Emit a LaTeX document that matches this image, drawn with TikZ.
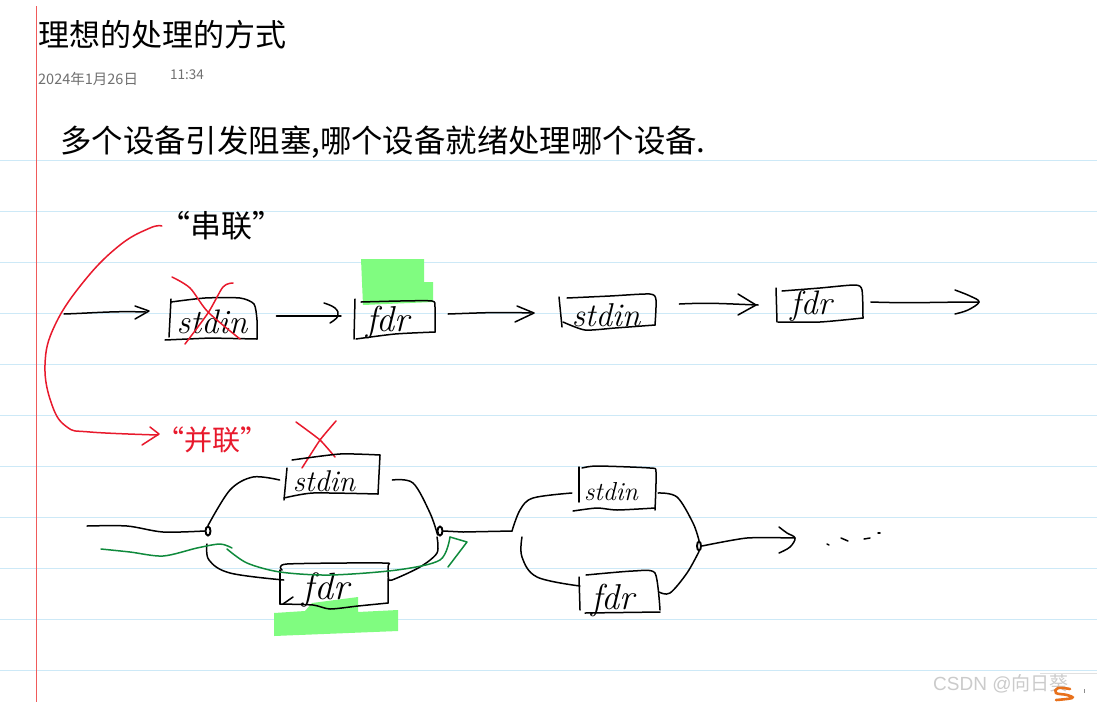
\documentclass[tikz,border=0pt]{standalone}
\usepackage{fontspec}
\usetikzlibrary{positioning,shapes.geometric}
\newfontfamily\cjk{Noto Sans CJK SC}
\newfontfamily\wmfont{Liberation Sans}
\definecolor{ruleblue}{HTML}{CDE9F7}
\definecolor{marginred}{HTML}{F05A5A}
\definecolor{inkred}{HTML}{E8192C}
\definecolor{inkgreen}{HTML}{0F8A3C}
\definecolor{marker}{HTML}{80FC80}
\definecolor{datagrey}{HTML}{707070}
\definecolor{wmgrey}{HTML}{CBCBCB}
\definecolor{sogou}{HTML}{E8711C}
\tikzset{
  pen/.style={draw=black,line width=1.5pt,line cap=round,line join=round},
  redpen/.style={draw=inkred,line width=1.5pt,line cap=round,line join=round},
  greenpen/.style={draw=inkgreen,line width=1.5pt,line cap=round,line join=round},
  word/.style={font=\itshape\fontsize{#1}{#1}\selectfont,inner sep=0pt},
  joint/.style={draw=black,line width=1.9pt,ellipse,inner sep=0pt,minimum width=5pt,minimum height=9pt},
  note/.style={font=\cjk\fontsize{#1}{#1}\selectfont,inner sep=0pt},
}
\begin{document}
\begin{tikzpicture}[x=1pt,y=-1pt]
\path[use as bounding box,fill=white] (0,0) rectangle (1097,702);
% page rules
\foreach \ruley in {160,211,262,313,364,415,466,517,568,619,670}
  \draw[ruleblue,line width=.9pt] (0,\ruley)--(1097,\ruley);
\draw[marginred,line width=1pt] (36,6)--(36,702);
% marker
\fill[marker] (361,259)--(424,259)--(424,282)--(433,282)--(433,302)--(363,305)--cycle;
\fill[marker] (274,613)--(305,611)--(312,603)--(358,597)--(358,612)--(398,610)--(398,631)--(274,636)--cycle;
% heading
\node[note=31,anchor=west] (title) at (38,35) {理想的处理的方式};
\node[note=14.5,anchor=west,text=datagrey] (date) at (38,79) {2024年1月26日};
\node[note=13.5,anchor=west,text=datagrey] (time) at (170,75) {11:34};
\node[note=31.4,anchor=west] (question) at (60,142) {多个设备引发阻塞,哪个设备就绪处理哪个设备.};
\node[note=31] (serial) at (221,226) {“串联”};
\node[note=28,text=inkred] (parallel) at (212,440) {“并联”};
% serial row
\node[word=34] (s1) at (212,322) {stdin};
\node[word=36] (f1) at (388,322) {fdr};
\node[word=33] (s2) at (606,315) {stdin};
\node[word=34] (f2) at (811,306) {fdr};
\coordinate (in1) at (64,314);
\coordinate (out1) at (979,302);
\draw[pen] (in1) to[out=2,in=178] ([shift={(-31,-10)}]s1.west);
\draw[pen] (135,306)--(149,311)--(135,319);
\draw[pen] ([shift={(29,-6)}]s1.east)--([shift={(-25,-6)}]f1.west);
\draw[pen] plot[smooth,tension=.7] coordinates {(324,303) (335,308) (338,316) (330,323)};
\draw[pen] ([shift={(38,-8)}]f1.east) to[out=2,in=178] ([shift={(-41,-2)}]s2.west);
\draw[pen] (517,306)--(534,313)--(515,322);
\draw[pen] ([shift={(39,-11)}]s2.east) to[out=3,in=178] ([shift={(-32,-1)}]f2.west);
\draw[pen] (738,294)--(756,305)--(738,315);
\draw[pen] ([shift={(39,-4)}]f2.east) to[out=-2,in=180] (out1);
\draw[pen] plot[smooth,tension=.6] coordinates {(955,290) (970,296) (979,302) (968,310) (955,314)};
% serial boxes
\draw[pen] (171,299)--(169,337);
\draw[pen] plot[smooth,tension=.4] coordinates {(171,302) (205,298) (240,298) (254,304) (257,320) (257,339)};
\draw[pen] (165,340)--(210,338)--(257,339);
\draw[pen] (355,299)--(354,339);
\draw[pen] plot[smooth,tension=.4] coordinates {(361,302) (400,301) (432,301) (435,307) (435,332)};
\draw[pen] plot[smooth,tension=.4] coordinates {(356,339) (395,334) (435,332)};
\draw[pen] (559,297)--(562,327);
\draw[pen] plot[smooth,tension=.4] coordinates {(567,298) (610,296) (650,294) (656,300) (655,325)};
\draw[pen] plot[smooth,tension=.4] coordinates {(563,322) (585,330) (615,328) (655,325)};
\draw[pen] (776,288)--(777,322);
\draw[pen] plot[smooth,tension=.4] coordinates {(782,291) (820,288) (855,285) (862,290) (863,318)};
\draw[pen] plot[smooth,tension=.4] coordinates {(778,322) (820,322) (863,318)};
% crossed out
\draw[redpen] plot[smooth,tension=.5] coordinates {(172,277) (190,288) (208,312) (240,339)};
\draw[redpen] plot[smooth,tension=.5] coordinates {(185,344) (208,313) (223,287) (233,283)};
\draw[redpen] plot[smooth,tension=.3] coordinates {(296,422) (320,440) (335,457)};
\draw[redpen] plot[smooth,tension=.3] coordinates {(336,421) (320,440) (302,468)};
% from serial to parallel
\draw[redpen] plot[smooth,tension=.7] coordinates {([shift={(3,0)}]serial.west) (150,228) (120,245) (85,280) (55,325) (45,365) (52,405) (67,427) (90,432) ([shift={(2,-5)}]parallel.west)};
\draw[redpen] (150,427)--(159,434)--(142,445);
% first parallel group
\coordinate (in2) at (87,526);
\node[joint] (j1) at (208,531) {};
\node[joint] (j2) at (440,531) {};
\node[word=30] (s3) at (324,481) {stdin};
\node[word=38] (f3) at (326,590) {fdr};
\draw[pen] plot[smooth,tension=.5] coordinates {(in2) (127,526) (163,532) (j1.west)};
\draw[pen] plot[smooth,tension=.55] coordinates {(j1.north) (230,490) (253,477) ([shift={(-13,-1)}]s3.west)};
\draw[pen] plot[smooth,tension=.6] coordinates {(207,544) (209,560) (230,573) ([shift={(-19,-10)}]f3.west)};
\draw[pen] plot[smooth,tension=.55] coordinates {([shift={(37,-1)}]s3.east) (413,483) (430,513) (j2.south west)};
\draw[pen] plot[smooth,tension=.5] coordinates {([shift={(39,-12)}]f3.east) (392,580) (420,567) (437,553) (437,537)};
\draw[pen] (j2.east)--(463,532)--(512,531);
% first parallel boxes
\draw[pen] (287,468)--(284,500);
\draw[pen] plot[smooth,tension=.4] coordinates {(292,460) (340,454) (380,455)};
\draw[pen] (380,455)--(378,494);
\draw[pen] plot[smooth,tension=.4] coordinates {(284,498) (313,493) (378,494)};
\draw[pen] plot[smooth,tension=.4] coordinates {(282,570) (287,564) (383,563) (388,567) (388,603)};
\draw[pen] (280,570)--(280,604);
\draw[pen] plot[smooth,tension=.4] coordinates {(280,604) (313,605) (330,609) (358,606) (388,603)};
\draw[pen] (283,604)--(293,597);
% taken route
\draw[greenpen] plot[smooth,tension=.5] coordinates {(101,549) (130,552) (163,556) (197,548) (220,544) (232,548)};
\draw[greenpen] plot[smooth,tension=.5] coordinates {(227,549) (247,563) (280,572) (330,575) (397,570) (440,560) (450,537)};
\draw[greenpen] (450,537)--(467,542)--(448,567);
% second parallel group
\node[word=26] (s4) at (611,492) {stdin};
\node[word=36] (f4) at (613,600) {fdr};
\node[joint,minimum width=4pt] (j3) at (699,546) {};
\coordinate (out2) at (795,538);
\draw[pen] plot[smooth,tension=.55] coordinates {(512,531) (520,510) (533,498) ([shift={(-12,1)}]s4.west)};
\draw[pen] plot[smooth,tension=.6] coordinates {(522,537) (522,557) (537,577) ([shift={(-11,-14)}]f4.west)};
\draw[pen] plot[smooth,tension=.55] coordinates {([shift={(20,1)}]s4.east) (677,497) (693,523) (j3.north)};
\draw[pen] plot[smooth,tension=.55] coordinates {([shift={(24,-8)}]f4.east) (670,593) (687,573) (j3.south)};
\draw[pen] plot[smooth,tension=.4] coordinates {(j3.east) (747,538) (out2)};
\draw[pen] plot[smooth,tension=.6] coordinates {(779,527) (787,533) (795,538) (790,547) (779,553)};
% second parallel boxes
\draw[pen] (579,467)--(579,502);
\draw[pen] plot[smooth,tension=.4] coordinates {(582,468) (597,466) (650,468) (656,472) (655,510)};
\draw[pen] plot[smooth,tension=.4] coordinates {(573,511) (597,508) (617,510) (655,508)};
\draw[pen] (579,577)--(580,610);
\draw[pen] plot[smooth,tension=.4] coordinates {(586,575) (633,571) (655,573) (660,610)};
\draw[pen] (585,613)--(660,612);
% trailing dots
\draw[pen] (827,544)--(829,545);
\draw[pen] (841,538)--(848,541);
\draw[pen] (864,539)--(870,538);
\draw[pen] (878,533)--(880,533);
% watermark
\draw[black!12,line width=.8pt] (1040,673)--(1097,673);
\node[anchor=west,text=wmgrey,inner sep=0pt,font=\wmfont\fontsize{19}{19}\selectfont] (mark) at (933,684) {CSDN @{\cjk 向日葵}};
\draw[sogou,line width=2.6pt,line cap=round] plot[smooth,tension=.7] coordinates {(1070,689) (1058,688) (1056,693) (1067,695) (1072,698) (1056,700)};
\draw[black!45,line width=.7pt] (1084,689)--(1084,693);
\end{tikzpicture}
\end{document}
